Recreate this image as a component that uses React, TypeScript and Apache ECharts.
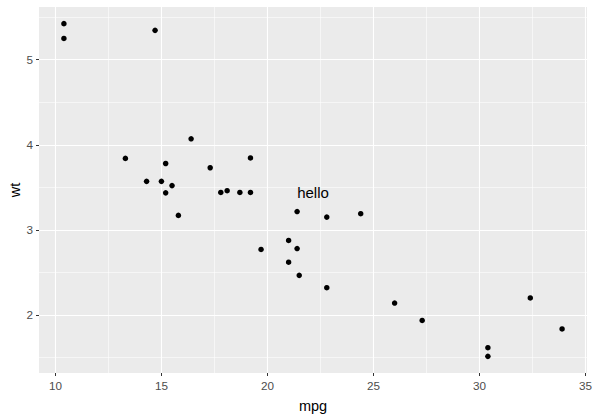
import React, { useEffect, useRef } from "react";
import * as echarts from "echarts";

const mpg = [21.0, 21.0, 22.8, 21.4, 18.7, 18.1, 14.3, 24.4, 22.8, 19.2, 17.8, 16.4, 17.3, 15.2, 10.4, 10.4, 14.7, 32.4, 30.4, 33.9, 21.5, 15.5, 15.2, 13.3, 19.2, 27.3, 26.0, 30.4, 15.8, 19.7, 15.0, 21.4];
const wt = [2.62, 2.875, 2.32, 3.215, 3.44, 3.46, 3.57, 3.19, 3.15, 3.44, 3.44, 4.07, 3.73, 3.78, 5.25, 5.424, 5.345, 2.2, 1.615, 1.835, 2.465, 3.52, 3.435, 3.84, 3.845, 1.935, 2.14, 1.513, 3.17, 2.77, 3.57, 2.78];
const xTicks = [10, 15, 20, 25, 30, 35];
const xMinor = [12.5, 17.5, 22.5, 27.5, 32.5];
const yTicks = [2, 3, 4, 5];
const yMinor = [1.5, 2.5, 3.5, 4.5, 5.5];
const annotation = { label: "hello", x: 22.15, y: 3.44 };
const xTitle = "mpg";
const yTitle = "wt";

const xMin = 9.225, xMax = 35.075;
const yMin = 1.3175, yMax = 5.6195;

export default function App() {
  const ref = useRef<HTMLDivElement>(null);
  useEffect(() => {
    if (!ref.current) return;
    const chart = echarts.init(ref.current, null, { renderer: "svg" });
    const font = "Liberation Sans, Arial, sans-serif";
    const grid = [
      ...xMinor.map((v) => ({ xAxis: v, lineStyle: { width: 0.55 } })),
      ...yMinor.map((v) => ({ yAxis: v, lineStyle: { width: 0.55 } })),
      ...xTicks.map((v) => ({ xAxis: v, lineStyle: { width: 1.1 } })),
      ...yTicks.map((v) => ({ yAxis: v, lineStyle: { width: 1.1 } })),
    ];
    chart.setOption({
      animation: false,
      grid: {
        left: 39, right: 9, top: 7, bottom: 46, show: true, backgroundColor: "#EBEBEB", borderWidth: 0,
        containLabel: false, outerBoundsMode: "none",
      },
      graphic: [
        {
          type: "text", x: 15, y: 190, rotation: Math.PI / 2,
          style: { text: yTitle, fill: "#000", fontSize: 14.5, fontFamily: font, align: "center", verticalAlign: "middle" },
        },
      ],
      xAxis: {
        type: "value", min: xMin, max: xMax,
        name: xTitle, nameLocation: "middle", nameGap: 25,
        nameTextStyle: { color: "#000", fontSize: 14.5, fontFamily: font },
        axisLine: { show: false },
        splitLine: { show: false },
        axisTick: { show: true, length: 3, customValues: xTicks, lineStyle: { color: "#333", width: 1 } },
        axisLabel: { customValues: xTicks, color: "#4D4D4D", fontSize: 11.7, fontFamily: font, margin: 6 },
      },
      yAxis: {
        type: "value", min: yMin, max: yMax,
        axisLine: { show: false },
        splitLine: { show: false },
        axisTick: { show: true, length: 3, customValues: yTicks, lineStyle: { color: "#333", width: 1 } },
        axisLabel: { customValues: yTicks, color: "#4D4D4D", fontSize: 11.7, fontFamily: font, margin: 6 },
      },
      series: [
        {
          type: "scatter", data: [], z: 1, silent: true,
          markLine: {
            silent: true, symbol: "none", animation: false, z: 1,
            label: { show: false },
            lineStyle: { color: "#FFFFFF", type: "solid", opacity: 1 },
            data: grid,
          },
        },
        {
          type: "scatter", z: 10, symbol: "circle", symbolSize: 5.5,
          itemStyle: { color: "#000", opacity: 1 },
          data: mpg.map((m, i) => [m, wt[i]]),
        },
        {
          type: "scatter", z: 11, symbolSize: 0,
          itemStyle: { opacity: 1 },
          data: [[annotation.x, annotation.y]],
          label: { show: true, position: "inside", formatter: annotation.label, color: "#000", fontSize: 15, fontFamily: font },
        },
      ],
    });
    return () => chart.dispose();
  }, []);
  return <div ref={ref} style={{ width: 596, height: 419, position: "absolute", left: 0, top: 0 }} />;
}
